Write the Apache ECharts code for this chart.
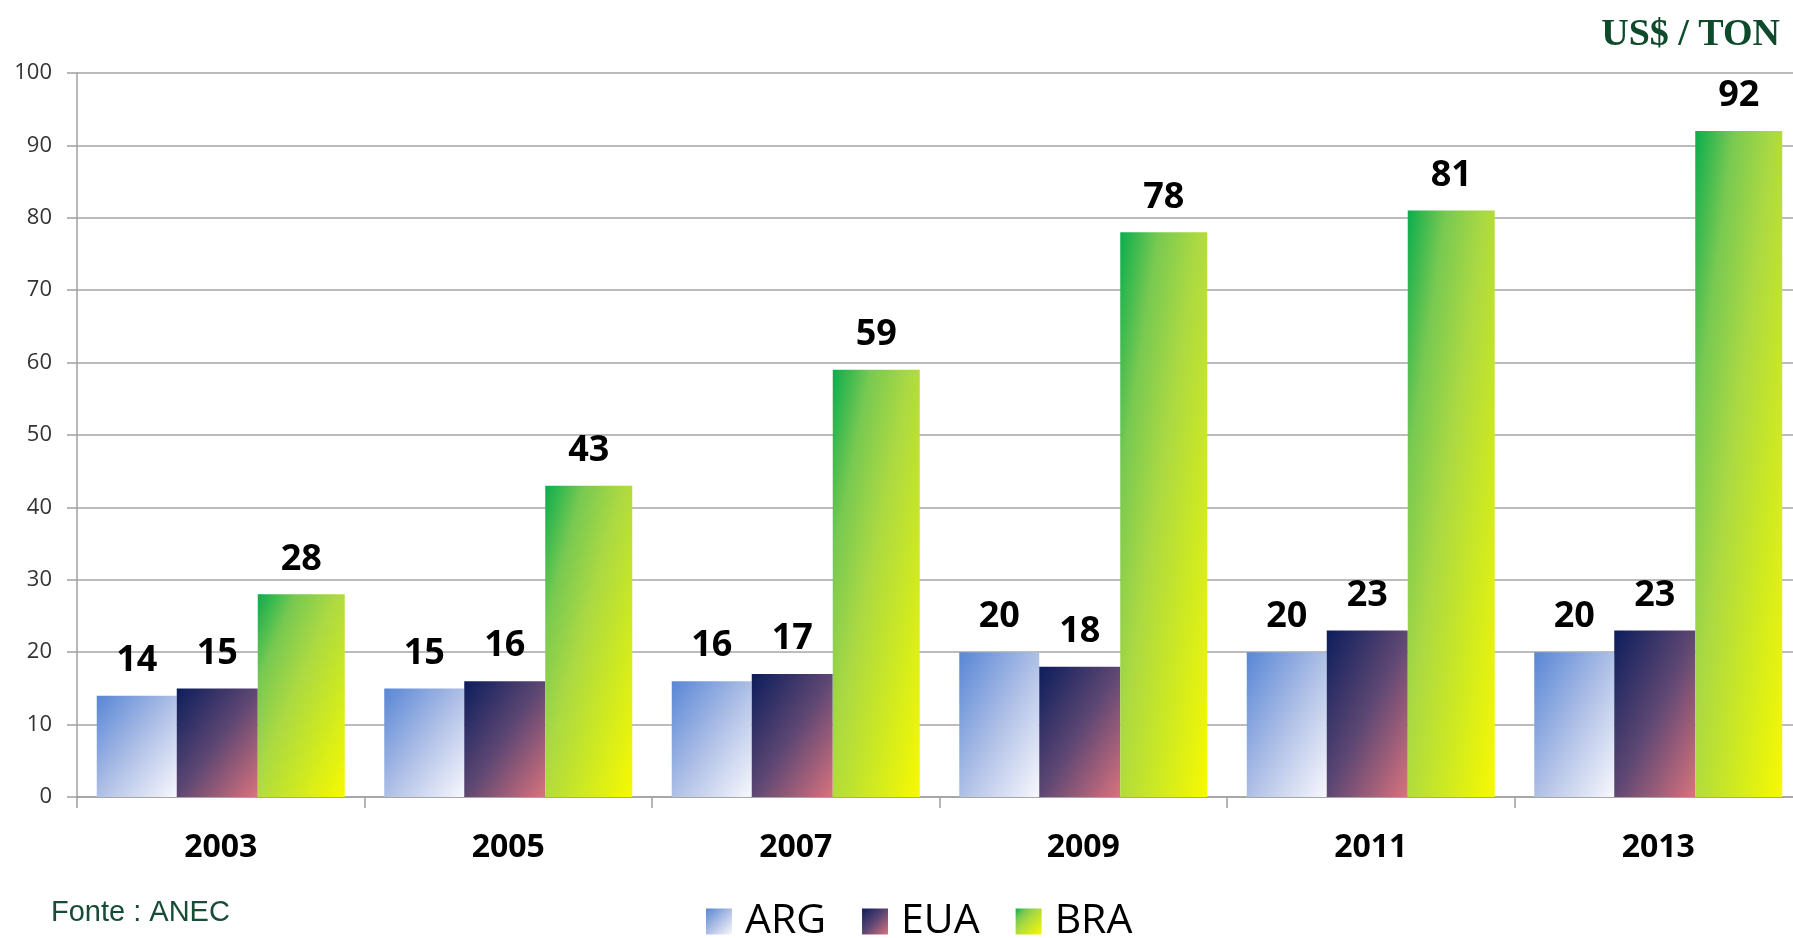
<!DOCTYPE html>
<html>
<head>
<meta charset="utf-8">
<script src="https://cdn.jsdelivr.net/npm/echarts@6/dist/echarts.min.js"></script>
<style>
html,body{margin:0;padding:0;background:#fff;overflow:hidden;}
#c{width:1810px;height:938px;}
</style>
</head>
<body>
<div id="c"></div>
<script>
const categories = ['2003', '2005', '2007', '2009', '2011', '2013'];
const seriesNames = ['ARG', 'EUA', 'BRA'];
const argValues = [14, 15, 16, 20, 20, 20];
const euaValues = [15, 16, 17, 18, 23, 23];
const braValues = [28, 43, 59, 78, 81, 92];
const yTicks = [0, 10, 20, 30, 40, 50, 60, 70, 80, 90, 100];

// container is 1810 wide; visible window is 1793
const GRID_TOP = 73, GRID_BOTTOM = 141, GRID_LEFT = 77, GRID_RIGHT = 8;
const PLOT_H = 938 - GRID_TOP - GRID_BOTTOM;
const PX_PER_UNIT = PLOT_H / 100;

const stopsARG = [[0, '#5886d5'], [0.5, '#aebfe6'], [1, '#f8f8fd']];
const stopsEUA = [[0, '#0c1d5c'], [0.5, '#5e4773'], [1, '#d9737d']];
const stopsBRA = [[0, '#0aad4d'], [0.22, '#78c951'], [0.45, '#acd942'], [0.72, '#d0ea20'], [1, '#f8f900']];

function mkStops(s) { return s.map(p => ({ offset: p[0], color: p[1] })); }

// Excel-like diagonal gradient: isolines follow bar's anti-diagonal
function barGrad(v, w, stops) {
  const h = Math.max(v * PX_PER_UNIT, 1);
  const d = h * h + w * w;
  const x2 = 2 * h * h / d, y2 = 2 * w * w / d;
  return new echarts.graphic.LinearGradient(0, 0, x2, y2, mkStops(stops));
}
function squareGrad(stops) {
  return new echarts.graphic.LinearGradient(0, 0, 1, 1, mkStops(stops));
}

const widths = [80, 81, 87];
const allStops = [stopsARG, stopsEUA, stopsBRA];
const allValues = [argValues, euaValues, braValues];

const chart = echarts.init(document.getElementById('c'));

const series = seriesNames.map((name, i) => ({
  name: name,
  type: 'bar',
  barWidth: widths[i],
  barGap: '0%',
  itemStyle: { color: squareGrad(allStops[i]) },
  data: allValues[i].map(v => ({ value: v, itemStyle: { color: barGrad(v, widths[i], allStops[i]) } })),
  label: {
    show: true,
    position: 'top',
    distance: 17,
    fontFamily: 'Open Sans',
    fontWeight: 'bold',
    fontSize: 36,
    color: '#000'
  }
}));

chart.setOption({
  animation: false,
  backgroundColor: '#fff',
  title: [
    {
      text: 'US$ / TON',
      right: 30,
      top: 16,
      padding: 0,
      textStyle: { fontFamily: 'Liberation Serif', fontWeight: 'bold', fontSize: 38, color: '#0f4a2c' }
    },
    {
      text: 'Fonte : ANEC',
      left: 51,
      top: 898,
      padding: 0,
      textStyle: { fontFamily: 'Liberation Sans', fontWeight: 'normal', fontSize: 29, color: '#174d37' }
    }
  ],
  legend: {
    left: 706,
    top: 901,
    padding: 0,
    icon: 'rect',
    itemWidth: 26,
    itemHeight: 26,
    itemGap: 36,
    textStyle: { fontFamily: 'Open Sans', fontSize: 41, color: '#000', padding: [0, 0, 0, 8] },
    data: seriesNames.map((n, i) => ({ name: n, itemStyle: { color: squareGrad(allStops[i]) } }))
  },
  grid: { left: GRID_LEFT, right: GRID_RIGHT, top: GRID_TOP, bottom: GRID_BOTTOM, containLabel: false },
  xAxis: {
    type: 'category',
    data: categories,
    axisLine: { show: true, lineStyle: { color: '#a0a0a0', width: 1.5 } },
    axisTick: { show: true, length: 11, alignWithLabel: false, lineStyle: { color: '#a0a0a0', width: 1.5 } },
    axisLabel: { margin: 35, fontFamily: 'Open Sans', fontWeight: 'bold', fontSize: 32, color: '#000' }
  },
  yAxis: {
    type: 'value',
    min: yTicks[0],
    max: yTicks[yTicks.length - 1],
    interval: 10,
    axisLine: { show: true, lineStyle: { color: '#a0a0a0', width: 1.5 } },
    axisTick: { show: true, length: 10, lineStyle: { color: '#a0a0a0', width: 1.5 } },
    splitLine: { show: true, lineStyle: { color: '#a6a6a6', width: 1.5 } },
    axisLabel: { margin: 25, fontFamily: 'Open Sans', fontSize: 22, color: '#333' }
  },
  series: series
});
</script>
</body>
</html>
